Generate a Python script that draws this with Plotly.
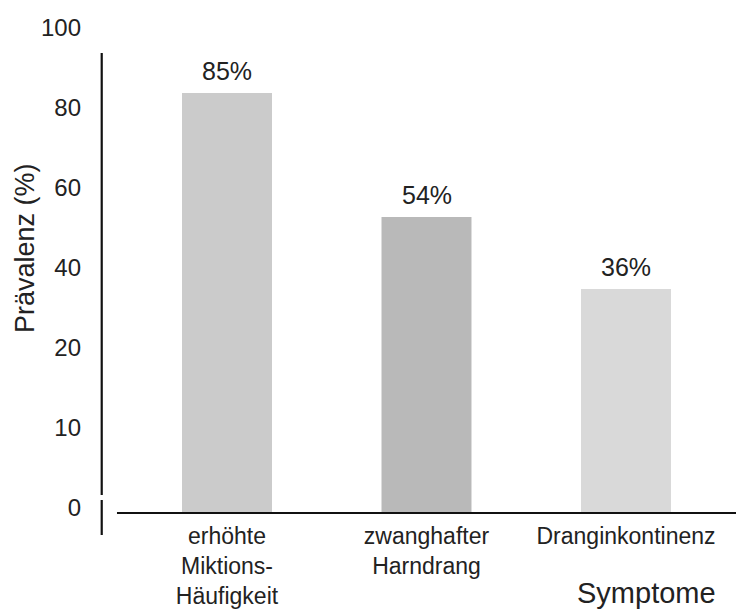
import numpy as np
import plotly.graph_objects as go

# Data
categories = ["erhöhte<br>Miktions-<br>Häufigkeit", "zwanghafter<br>Harndrang", "Dranginkontinenz"]
values = [85, 54, 36]
bar_colors = ["#cbcbcb", "#b9b9b9", "#d9d9d9"]
tick_labels = [0, 10, 20, 40, 60, 80, 100]

# The original chart uses an equally spaced (non-linear) value scale;
# map values onto it piecewise-linearly between the tick labels.
tick_pos = list(range(len(tick_labels)))
scaled = np.interp(values, tick_labels, tick_pos)
xpos = list(range(len(categories)))

FONT = "Liberation Sans, Arial, sans-serif"
TXT = "#222222"

fig = go.Figure()
fig.add_trace(go.Bar(
    x=xpos, y=scaled, width=0.451,
    marker=dict(color=bar_colors, line=dict(width=0)),
    hoverinfo="skip", showlegend=False,
))

for xi, v, s in zip(xpos, values, scaled):
    fig.add_annotation(x=xi, y=s, text=f"{v}%", showarrow=False,
                       yanchor="middle", yshift=22,
                       font=dict(family=FONT, size=25, color=TXT))

# Axis lines (with the break near zero)
line_col = "#111111"
fig.add_shape(type="line", xref="paper", yref="paper",
              x0=0.0027, x1=0.0027, y0=0.9274, y1=0.0363,
              line=dict(color=line_col, width=2.2))
fig.add_shape(type="line", xref="paper", yref="paper",
              x0=0.0027, x1=0.0027, y0=0.0262, y1=-0.0444,
              line=dict(color=line_col, width=2.2))
fig.add_shape(type="line", xref="paper", yref="paper",
              x0=0.0267, x1=1.0, y0=0, y1=0,
              line=dict(color=line_col, width=2.2))

fig.add_annotation(xref="paper", yref="paper", x=0.86, y=-0.161,
                   text="Symptome", showarrow=False,
                   xanchor="center", yanchor="middle",
                   font=dict(family=FONT, size=29, color=TXT))
fig.add_annotation(xref="paper", yref="paper", x=-0.118, y=0.534,
                   text="Prävalenz (%)", showarrow=False, textangle=-90,
                   xanchor="center", yanchor="middle",
                   font=dict(family=FONT, size=27, color=TXT))

fig.update_layout(
    width=736, height=613,
    margin=dict(l=100, r=0, t=17, b=100),
    paper_bgcolor="white", plot_bgcolor="white",
    font=dict(family=FONT, color=TXT),
    xaxis=dict(
        range=[-0.6366, 2.5514],
        tickvals=xpos, ticktext=categories,
        showgrid=False, zeroline=False, showline=False,
        ticks="", tickfont=dict(family=FONT, size=23, color=TXT),
        ticklabelstandoff=7, automargin=False,
    ),
    yaxis=dict(
        range=[0, 6.2],
        tickvals=tick_pos, ticktext=[str(t) for t in tick_labels],
        showgrid=False, zeroline=False, showline=False,
        ticks="", tickfont=dict(family=FONT, size=24, color=TXT),
        ticklabelstandoff=18, ticklabelshift=-5, automargin=False,
    ),
)

fig.write_html("out.html",
               config={"displayModeBar": False},
               post_script="document.body.style.margin='0';document.body.style.overflow='hidden';")
